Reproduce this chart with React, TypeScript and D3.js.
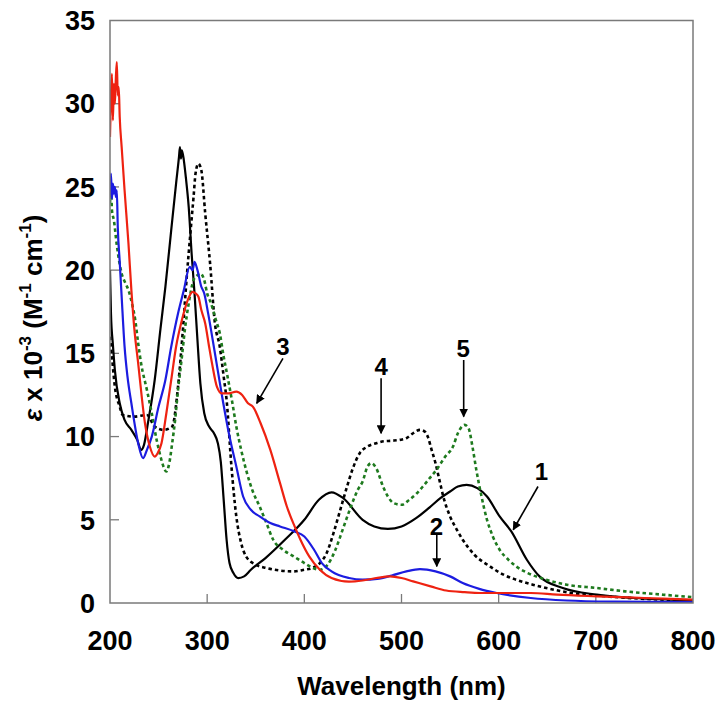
import React from "react";
import * as d3 from "d3";

type P = [number, number];

const xTicks = [200, 300, 400, 500, 600, 700, 800];
const yTicks = [0, 5, 10, 15, 20, 25, 30, 35];

// 1: black solid
const series1: P[] = [
  [200, 20.0], [201, 17.4], [203, 15.5], [205, 14.0], [210, 12.0], [215, 11.0], [222, 10.4],
  [228, 9.8], [232, 9.2], [235, 9.5], [239, 10.8], [246, 13.4], [252, 16.5], [257, 19.0],
  [263, 22.4], [268, 25.2], [271, 26.8], [272, 27.4], [273, 26.7], [274, 27.2], [276, 26.6],
  [278, 25.6], [281, 23.8], [284, 21.0], [287, 18.6], [290, 15.8], [293, 13.2], [297, 11.4],
  [302, 10.6], [307, 10.2], [311, 9.6], [314, 8.5], [317, 6.2], [320, 3.8], [323, 2.4],
  [327, 1.8], [332, 1.5], [338, 1.6], [345, 2.0], [360, 2.7], [380, 3.8], [400, 5.0],
  [415, 6.2], [428, 6.65], [440, 6.3], [460, 5.0], [472, 4.6], [486, 4.45], [500, 4.6],
  [515, 5.1], [529, 5.75], [540, 6.3], [550, 6.7], [558, 7.0], [567, 7.1], [578, 6.9],
  [588, 6.4], [601, 5.2], [613, 4.3], [629, 2.6], [642, 1.6], [666, 0.9], [701, 0.5],
  [740, 0.3], [800, 0.15],
];

// 2: blue solid
const series2: P[] = [
  [200, 24.5], [201, 25.8], [202, 24.3], [203, 25.2], [204, 24.6], [205, 25.0], [206, 24.4],
  [207, 24.8], [208, 22.6], [210, 20.5], [212, 18.4], [215, 15.4], [218, 13.6], [222, 12.0],
  [229, 9.6], [234, 8.7], [238, 9.2], [243, 10.0], [250, 11.8], [257, 13.4], [263, 15.4],
  [270, 17.4], [276, 18.8], [282, 20.2], [285, 20.0], [287, 20.5], [290, 20.0], [294, 19.0],
  [297, 18.6], [301, 17.4], [308, 15.0], [316, 12.2], [323, 10.0], [330, 8.2], [337, 6.4],
  [345, 5.6], [354, 5.2], [365, 4.8], [375, 4.6], [390, 4.3], [400, 4.0], [410, 3.2],
  [418, 2.4], [428, 1.9], [446, 1.5], [460, 1.4], [475, 1.45], [490, 1.65], [505, 1.9],
  [519, 2.04], [535, 1.9], [550, 1.6], [563, 1.2], [580, 0.85], [598, 0.6], [633, 0.3],
  [670, 0.15], [720, 0.08], [800, 0.05],
];

// 3: red solid
const series3: P[] = [
  [200, 28.0], [201, 30.5], [202, 31.8], [203, 29.0], [204, 31.2], [205, 30.0], [206, 31.5],
  [207, 32.5], [208, 30.5], [209, 31.0], [210, 29.2], [212, 27.4], [215, 24.8], [219, 21.6],
  [222, 18.8], [225, 16.5], [229, 14.4], [236, 10.8], [241, 9.4], [246, 8.8], [249, 9.0],
  [253, 9.6], [258, 11.4], [263, 13.4], [268, 15.4], [274, 17.0], [280, 18.2], [285, 18.7],
  [288, 18.6], [291, 18.4], [294, 17.6], [298, 16.8], [302, 15.4], [305, 14.4], [310, 13.0],
  [315, 12.6], [322, 12.6], [330, 12.7], [336, 12.5], [342, 12.0], [347, 11.8], [355, 10.8],
  [365, 9.2], [375, 7.2], [382, 5.8], [390, 4.6], [396, 3.8], [405, 2.8], [416, 2.0],
  [428, 1.5], [446, 1.28], [460, 1.35], [474, 1.5], [488, 1.6], [500, 1.5], [512, 1.3],
  [530, 1.0], [546, 0.75], [565, 0.65], [581, 0.6], [633, 0.6], [660, 0.5], [701, 0.4],
  [750, 0.3], [800, 0.2],
];

// 4: black dotted
const series4: P[] = [
  [200, 16.0], [202, 14.8], [205, 13.0], [210, 11.8], [213, 11.3], [225, 11.2], [238, 11.3],
  [246, 10.6], [255, 10.4], [264, 10.6], [270, 13.0], [275, 16.4], [279, 19.6], [283, 22.4],
  [286, 24.4], [288, 25.8], [291, 26.4], [294, 26.0], [298, 23.4], [303, 20.4], [308, 16.8],
  [313, 15.4], [317, 13.6], [320, 12.2], [325, 8.2], [330, 5.2], [335, 3.6], [340, 2.8],
  [350, 2.3], [361, 2.1], [375, 1.95], [389, 1.9], [400, 2.0], [408, 2.1], [416, 2.4],
  [423, 3.0], [430, 4.2], [437, 5.6], [444, 7.0], [450, 8.1], [457, 9.0], [465, 9.4],
  [474, 9.6], [480, 9.7], [490, 9.75], [498, 9.8], [505, 9.9], [512, 10.2], [519, 10.4],
  [524, 10.3], [527, 10.0], [531, 9.2], [535, 8.4], [539, 7.4], [543, 6.4], [550, 5.2],
  [557, 4.4], [563, 3.8], [575, 2.9], [591, 2.2], [605, 1.7], [618, 1.4], [635, 1.1],
  [649, 0.9], [675, 0.6], [700, 0.45], [750, 0.25], [800, 0.15],
];

// 5: green dotted
const series5: P[] = [
  [200, 24.0], [201, 25.0], [202, 23.6], [204, 23.0], [207, 21.5], [212, 19.8], [216, 19.2],
  [219, 18.8], [223, 17.9], [226, 17.0], [229, 15.6], [232, 14.4], [238, 12.8], [243, 11.4],
  [248, 9.8], [252, 8.8], [255, 8.2], [258, 7.9], [261, 8.4], [264, 9.6], [267, 11.0],
  [270, 12.8], [274, 14.8], [277, 16.4], [281, 18.0], [286, 19.4], [290, 19.7], [293, 19.8],
  [297, 19.4], [300, 18.6], [304, 18.0], [309, 17.0], [313, 16.2], [317, 14.8], [321, 13.6],
  [326, 12.0], [330, 10.6], [335, 9.2], [341, 7.8], [347, 6.7], [354, 5.8], [361, 4.8],
  [368, 3.8], [378, 3.2], [389, 2.8], [400, 2.4], [409, 2.1], [416, 2.0], [424, 2.3],
  [432, 3.2], [440, 4.5], [448, 5.8], [455, 6.8], [460, 7.3], [465, 8.2], [469, 8.4],
  [474, 8.1], [481, 7.0], [486, 6.4], [492, 6.0], [500, 5.9], [508, 6.2], [516, 6.6],
  [522, 7.0], [529, 7.5], [536, 8.0], [545, 8.8], [553, 9.4], [558, 10.2], [565, 10.7],
  [569, 10.5], [573, 9.4], [577, 8.0], [582, 6.5], [588, 5.0], [594, 4.0], [601, 3.2],
  [610, 2.6], [618, 2.2], [630, 1.8], [649, 1.4], [670, 1.1], [701, 0.9], [730, 0.7],
  [769, 0.5], [800, 0.35],
];

const seriesList = [
  { data: series1, color: "#000000", dash: "" },
  { data: series4, color: "#000000", dash: "3.5,3" },
  { data: series5, color: "#1e7a1e", dash: "3.5,3" },
  { data: series2, color: "#1c1ce0", dash: "" },
  { data: series3, color: "#ee2211", dash: "" },
];

// annotations in data coordinates: label, label position, arrow from, arrow to
const annLabels = ["1", "2", "3", "4", "5"];
const annLabelPos: P[] = [[644, 7.9], [536, 4.6], [378, 15.4], [479, 14.2], [563.5, 15.3]];
const annFrom: P[] = [[640.5, 7.0], [536.3, 4.1], [378, 14.7], [479, 13.5], [564, 14.6]];
const annTo: P[] = [[615, 4.4], [536.3, 2.2], [351, 12.0], [479, 10.2], [564, 11.2]];

const W = 724;
const H = 706;
const x = d3.scaleLinear().domain([200, 800]).range([110, 693]);
const y = d3.scaleLinear().domain([0, 35]).range([603, 20.5]);

const font = "Arial, 'Liberation Sans', Helvetica, sans-serif";
const axisColor = "#7a7a7a";

export default function App() {
  const line = d3
    .line<P>()
    .x((d) => x(d[0]))
    .y((d) => y(d[1]))
    .curve(d3.curveMonotoneX);

  return (
    <svg
      width={W}
      height={H}
      style={{ position: "absolute", left: 0, top: 0, background: "#fff" }}
      fontFamily={font}
    >
      <defs>
        <marker id="ah" viewBox="0 0 10 10" refX="9" refY="5" markerWidth="9" markerHeight="9" markerUnits="userSpaceOnUse" orient="auto">
          <path d="M0,0 L10,5 L0,10 z" fill="#000" />
        </marker>
        <clipPath id="plot">
          <rect x={x(200)} y={y(35)} width={x(800) - x(200)} height={y(0) - y(35)} />
        </clipPath>
      </defs>
      <rect x={0} y={0} width={W} height={H} fill="#fff" />

      {/* ticks */}
      {yTicks.slice(1, -1).map((t) => (
        <line key={"yt" + t} x1={x(200)} x2={x(200) + 9} y1={y(t)} y2={y(t)} stroke={axisColor} strokeWidth={1.3} />
      ))}
      {xTicks.slice(1, -1).map((t) => (
        <line key={"xt" + t} x1={x(t)} x2={x(t)} y1={y(0)} y2={y(0) - 9} stroke={axisColor} strokeWidth={1.3} />
      ))}

      {/* curves */}
      <g clipPath="url(#plot)">
        {seriesList.map((s, i) => (
          <path
            key={i}
            d={line(s.data) || ""}
            fill="none"
            stroke={s.color}
            strokeWidth={s.dash ? 2.6 : 2.2}
            strokeDasharray={s.dash || undefined}
            strokeLinejoin="round"
          />
        ))}
      </g>

      {/* frame */}
      <rect
        x={x(200)}
        y={y(35)}
        width={x(800) - x(200)}
        height={y(0) - y(35)}
        fill="none"
        stroke={axisColor}
        strokeWidth={1.5}
      />

      {/* tick labels */}
      {yTicks.map((t) => (
        <text key={"yl" + t} x={95} y={y(t)} dy="0.36em" textAnchor="end" fontSize={27} fontWeight="bold" fill="#000">
          {t}
        </text>
      ))}
      {xTicks.map((t) => (
        <text key={"xl" + t} x={x(t)} y={650} textAnchor="middle" fontSize={27} fontWeight="bold" fill="#000">
          {t}
        </text>
      ))}

      {/* axis titles */}
      <text x={(x(200) + x(800)) / 2} y={695} textAnchor="middle" fontSize={26} fontWeight="bold" fill="#000">
        Wavelength (nm)
      </text>
      <text transform="translate(42,318) rotate(-90)" textAnchor="middle" fontSize={26} fontWeight="bold" fill="#000">
        <tspan fontStyle="italic">ε</tspan>
        <tspan> x 10</tspan>
        <tspan fontSize={17} dy={-11}>-3</tspan>
        <tspan dy={11}> (M</tspan>
        <tspan fontSize={17} dy={-11}>-1</tspan>
        <tspan dy={11}> cm</tspan>
        <tspan fontSize={17} dy={-11}>-1</tspan>
        <tspan dy={11}>)</tspan>
      </text>

      {/* annotations */}
      {annLabels.map((lab, i) => (
        <g key={"ann" + lab}>
          <text
            x={x(annLabelPos[i][0])}
            y={y(annLabelPos[i][1])}
            dy="0.36em"
            textAnchor="middle"
            fontSize={24}
            fontWeight="bold"
            fill="#000"
          >
            {lab}
          </text>
          <line
            x1={x(annFrom[i][0])}
            y1={y(annFrom[i][1])}
            x2={x(annTo[i][0])}
            y2={y(annTo[i][1])}
            stroke="#000"
            strokeWidth={1.6}
            markerEnd="url(#ah)"
          />
        </g>
      ))}
    </svg>
  );
}
